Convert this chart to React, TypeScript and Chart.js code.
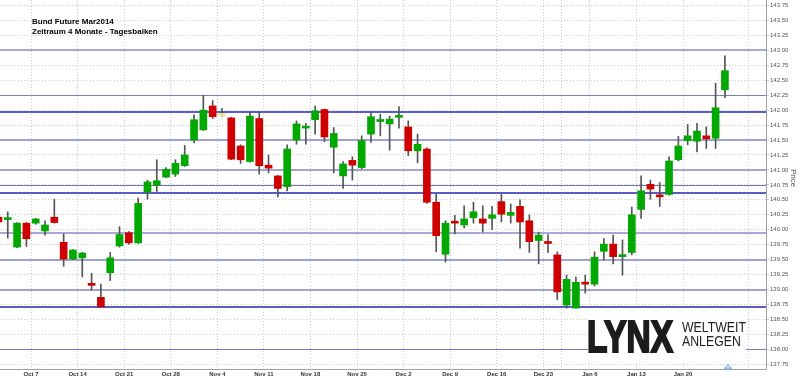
import React, { useEffect, useRef } from 'react';
import { Chart, registerables } from 'chart.js';

Chart.register(...registerables);

// Trading days (category of each candle)
const days = [
  'Oct 1', 'Oct 2', 'Oct 3', 'Oct 4',
  'Oct 7', 'Oct 8', 'Oct 9', 'Oct 10', 'Oct 11',
  'Oct 14', 'Oct 15', 'Oct 16', 'Oct 17', 'Oct 18',
  'Oct 21', 'Oct 22', 'Oct 23', 'Oct 24', 'Oct 25',
  'Oct 28', 'Oct 29', 'Oct 30', 'Oct 31', 'Nov 1',
  'Nov 4', 'Nov 5', 'Nov 6', 'Nov 7', 'Nov 8',
  'Nov 11', 'Nov 12', 'Nov 13', 'Nov 14', 'Nov 15',
  'Nov 18', 'Nov 19', 'Nov 20', 'Nov 21', 'Nov 22',
  'Nov 25', 'Nov 26', 'Nov 27', 'Nov 28', 'Nov 29',
  'Dec 2', 'Dec 3', 'Dec 4', 'Dec 5', 'Dec 6',
  'Dec 9', 'Dec 10', 'Dec 11', 'Dec 12', 'Dec 13',
  'Dec 16', 'Dec 17', 'Dec 18', 'Dec 19', 'Dec 20',
  'Dec 23', 'Dec 27',
  'Dec 30', 'Jan 2', 'Jan 3',
  'Jan 6', 'Jan 7', 'Jan 8', 'Jan 9', 'Jan 10',
  'Jan 13', 'Jan 14', 'Jan 15', 'Jan 16', 'Jan 17',
  'Jan 20', 'Jan 21', 'Jan 22', 'Jan 23', 'Jan 24',
];

const openP = [
  140.21, 140.17, 139.71, 140.11,
  140.11, 139.98, 140.21, 139.79, 139.51,
  139.53, 139.08, 138.87, 139.28, 139.73,
  139.95, 139.78, 140.63, 140.74, 140.88,
  140.93, 141.07, 141.50, 141.67, 142.07,
  141.91, 141.87, 141.40, 141.14, 141.86,
  141.08, 140.90, 140.72, 141.50, 141.70,
  141.84, 142.01, 141.38, 140.90, 141.16,
  141.04, 141.60, 141.81, 141.77, 141.88,
  141.72, 141.32, 141.35, 140.46, 139.59,
  140.12, 140.08, 140.20, 140.18, 140.19,
  140.47, 140.24, 140.39, 140.15, 139.82,
  139.78, 139.58,
  138.74, 138.69, 139.10,
  139.09, 139.64, 139.76, 139.55, 139.62,
  140.34, 140.76, 140.56, 140.59, 141.17,
  141.49, 141.48, 141.57, 141.53, 142.34,
];

const closeP = [
  140.13, 140.18, 140.11, 139.85,
  140.18, 140.08, 140.12, 139.51, 139.66,
  139.61, 139.07, 138.71, 139.53, 139.92,
  139.78, 140.44, 140.80, 140.82, 141.01,
  141.11, 141.25, 141.84, 142.00, 141.89,
  141.91, 141.18, 141.17, 141.90, 141.07,
  141.03, 140.69, 141.35, 141.77, 141.71,
  141.99, 141.55, 141.61, 141.10, 141.08,
  141.49, 141.89, 141.82, 141.85, 141.89,
  141.32, 141.43, 140.46, 139.90, 140.11,
  140.11, 140.18, 140.30, 140.11, 140.25,
  140.26, 140.29, 140.13, 139.80, 139.91,
  139.77, 138.96,
  139.17, 139.12, 139.09,
  139.54, 139.76, 139.55, 139.56, 140.25,
  140.65, 140.68, 140.55, 141.15, 141.40,
  141.57, 141.65, 141.52, 142.04, 142.66,
];

const highP = [
  140.25, 140.30, 140.12, 140.12,
  140.19, 140.15, 140.51, 139.93, 139.67,
  139.62, 139.27, 139.09, 139.62, 140.05,
  139.97, 140.53, 140.83, 141.17, 141.04,
  141.17, 141.41, 141.92, 142.25, 142.16,
  142.03, 141.88, 141.42, 141.96, 141.97,
  141.25, 140.91, 141.42, 141.82, 141.78,
  142.07, 142.02, 141.71, 141.14, 141.22,
  141.57, 141.96, 141.93, 141.90, 142.06,
  141.82, 141.60, 141.37, 140.60, 140.15,
  140.24, 140.40, 140.46, 140.40, 140.39,
  140.59, 140.43, 140.50, 140.25, 139.96,
  139.92, 139.63,
  139.24, 139.21, 139.24,
  139.63, 139.85, 139.91, 139.83, 140.38,
  140.90, 140.83, 140.79, 141.22, 141.56,
  141.76, 141.78, 141.72, 142.45, 142.91,
];

const lowP = [
  140.10, 139.86, 139.70, 139.72,
  140.09, 139.91, 140.11, 139.39, 139.50,
  139.21, 138.99, 138.70, 139.15, 139.71,
  139.76, 139.77, 140.51, 140.64, 140.87,
  140.89, 141.06, 141.45, 141.66, 141.86,
  141.90, 141.17, 141.11, 141.13, 140.93,
  140.95, 140.55, 140.65, 141.43, 141.43,
  141.60, 141.47, 140.95, 140.69, 140.83,
  141.02, 141.46, 141.57, 141.33, 141.70,
  141.24, 141.12, 140.44, 139.63, 139.46,
  139.93, 140.03, 140.11, 139.96, 140.00,
  140.13, 140.11, 139.69, 139.62, 139.43,
  139.62, 138.83,
  138.69, 138.69, 138.94,
  139.06, 139.49, 139.43, 139.24, 139.58,
  140.19, 140.51, 140.39, 140.58, 141.15,
  141.42, 141.30, 141.36, 141.36, 142.21,
];

// Week starts for vertical grid lines and their labels
const weekStarts = [
  'Oct 7', 'Oct 14', 'Oct 21', 'Oct 28', 'Nov 4', 'Nov 11', 'Nov 18', 'Nov 25',
  'Dec 2', 'Dec 9', 'Dec 16', 'Dec 23', 'Dec 30', 'Jan 6', 'Jan 13', 'Jan 20', 'Jan 27',
];
const weekLabels = [
  'Oct 7', 'Oct 14', 'Oct 21', 'Oct 28', 'Nov 4', 'Nov 11', 'Nov 18', 'Nov 25',
  'Dec 2', 'Dec 9', 'Dec 16', 'Dec 23', '', 'Jan 6', 'Jan 13', 'Jan 20', '',
];
// calendar days after the last trading day for weeks beyond the data
const futureWeekOffsets: Record<string, number> = { 'Jan 27': 3 };

const priceTicks = [
  137.75, 138.0, 138.25, 138.5, 138.75, 139.0, 139.25, 139.5, 139.75, 140.0,
  140.25, 140.5, 140.75, 141.0, 141.25, 141.5, 141.75, 142.0, 142.25, 142.5,
  142.75, 143.0, 143.25, 143.5, 143.75,
];

// Horizontal support / resistance lines
const levels = [143.0, 142.25, 141.97, 141.5, 141.0, 140.75, 140.61, 139.95, 139.5, 139.0, 138.71, 138.0];
const levelWidths = [2, 1, 2, 1.5, 2, 1, 2, 2, 1.5, 1.5, 2, 1];
const levelColors = [
  '#a8a8d6', '#7c7cbc', '#5c5cd0', '#8484c6', '#a4a4d4', '#7474b8',
  '#5c5cc8', '#a8a8d6', '#8484c6', '#8484c6', '#5c5cc8', '#7c7cbc',
];

const titleLines = ['Bund Future Mar2014', 'Zeitraum 4 Monate - Tagesbalken'];
const axisTitle = 'Price';
const logoMain = 'LYNX';
const logoSub = ['WELTWEIT', 'ANLEGEN'];

const UP = '#00a800';
const DOWN = '#d00000';
const FLAT = '#eee890';
const FONT = '"Liberation Sans", Arial, sans-serif';

function weekPositions(): number[] {
  const last = days.length - 1;
  return weekStarts.map((w) => {
    const idx = days.indexOf(w);
    if (idx >= 0) return idx - 0.5;
    return last + (futureWeekOffsets[w] || 0) - 0.5;
  });
}

const overlayPlugin = {
  id: 'overlay',
  beforeDatasetsDraw(chart: any) {
    const { ctx, chartArea, scales } = chart;
    const y = scales.y;
    ctx.save();
    levels.forEach((lv, k) => {
      const w = levelWidths[k];
      let py = y.getPixelForValue(lv);
      py = Math.round(py) + (w % 2 === 1 ? 0.5 : 0);
      ctx.strokeStyle = levelColors[k];
      ctx.lineWidth = w;
      ctx.beginPath();
      ctx.moveTo(chartArea.left, py);
      ctx.lineTo(chartArea.right, py);
      ctx.stroke();
    });
    ctx.restore();
  },
  afterDraw(chart: any) {
    const { ctx, chartArea } = chart;
    ctx.save();
    // axis lines
    ctx.strokeStyle = '#a0a0a0';
    ctx.lineWidth = 1;
    ctx.beginPath();
    const rx = Math.round(chartArea.right) + 0.5;
    const by = Math.round(chartArea.bottom) + 0.5;
    ctx.moveTo(rx, 0);
    ctx.lineTo(rx, by);
    ctx.moveTo(0, by);
    ctx.lineTo(rx, by);
    ctx.stroke();

    // title
    ctx.fillStyle = '#000';
    ctx.font = `bold 8px ${FONT}`;
    ctx.textBaseline = 'middle';
    ctx.textAlign = 'left';
    ctx.fillText(titleLines[0], 32, 21.7);
    ctx.fillText(titleLines[1], 32, 31.7);

    // axis title
    ctx.save();
    ctx.translate(793, 178);
    ctx.rotate(Math.PI / 2);
    ctx.font = `8px ${FONT}`;
    ctx.fillStyle = '#555';
    ctx.textAlign = 'center';
    ctx.textBaseline = 'middle';
    ctx.fillText(axisTitle, 0, 0);
    ctx.restore();

    // logo box
    ctx.fillStyle = '#ffffff';
    ctx.fillRect(588, 309, 158, 52);
    ctx.textAlign = 'left';
    ctx.textBaseline = 'alphabetic';
    ctx.fillStyle = '#1c1c1c';
    ctx.strokeStyle = '#1c1c1c';
    ctx.font = `bold 45px ${FONT}`;
    const wMain = ctx.measureText(logoMain).width;
    ctx.save();
    ctx.translate(587, 351.5);
    ctx.scale(86 / wMain, 1);
    ctx.lineWidth = 2.2;
    ctx.lineJoin = 'miter';
    ctx.fillText(logoMain, 0, 0);
    ctx.strokeText(logoMain, 0, 0);
    ctx.restore();

    ctx.font = `15.5px ${FONT}`;
    ctx.fillStyle = '#222';
    const wSub = ctx.measureText(logoSub[0]).width;
    const sx = 64 / wSub;
    ctx.save();
    ctx.translate(682, 331.8);
    ctx.scale(sx, 1);
    ctx.fillText(logoSub[0], 0, 0);
    ctx.restore();
    ctx.save();
    ctx.translate(682, 346.3);
    ctx.scale(sx, 1);
    ctx.fillText(logoSub[1], 0, 0);
    ctx.restore();

    // small icon
    ctx.beginPath();
    ctx.moveTo(724, 369);
    ctx.lineTo(728, 364.5);
    ctx.lineTo(732, 369);
    ctx.closePath();
    ctx.fillStyle = '#c4dcf4';
    ctx.fill();
    ctx.strokeStyle = '#7fa8d8';
    ctx.lineWidth = 1;
    ctx.stroke();
    ctx.restore();
  },
};

export default function App() {
  const canvasRef = useRef<HTMLCanvasElement | null>(null);

  useEffect(() => {
    const canvas = canvasRef.current;
    if (!canvas) return;
    const colorOf = (i: number) =>
      closeP[i] > openP[i] ? UP : closeP[i] < openP[i] ? DOWN : FLAT;
    const bodyColors = days.map((_, i) => colorOf(i));
    const weekPos = weekPositions();

    const chart = new Chart(canvas, {
      type: 'bar',
      data: {
        datasets: [
          {
            label: 'body',
            order: 0,
            data: days.map((_, i) => ({ x: i, y: [openP[i], closeP[i]] })) as any,
            backgroundColor: bodyColors,
            borderWidth: 0,
            barThickness: 7,
            minBarLength: 2,
          },
          {
            label: 'wick',
            order: 1,
            data: days.map((_, i) => ({ x: i, y: [lowP[i], highP[i]] })) as any,
            backgroundColor: '#555555',
            borderWidth: 0,
            barThickness: 1,
          },
        ],
      },
      options: {
        animation: false,
        responsive: false,
        events: [],
        layout: { padding: 0 },
        datasets: { bar: { grouped: false } } as any,
        plugins: {
          legend: { display: false },
          tooltip: { enabled: false },
          title: { display: false },
        },
        scales: {
          x: {
            type: 'linear',
            position: 'bottom',
            min: 0.167,
            max: 82.41,
            offset: false,
            afterBuildTicks: (s: any) => {
              s.ticks = weekPos.map((v) => ({ value: v }));
            },
            afterFit: (s: any) => {
              s.height = 9;
              s.paddingLeft = 0;
              s.paddingRight = 0;
            },
            ticks: {
              autoSkip: false,
              maxRotation: 0,
              minRotation: 0,
              padding: 2,
              color: '#333',
              font: { size: 6, weight: 'bold', family: FONT },
              callback: (_v: any, i: number) => weekLabels[i],
            },
            grid: { color: '#cccccc', lineWidth: 1, drawTicks: false, offset: false },
            border: { display: false, dash: [1, 2] },
          } as any,
          y: {
            type: 'linear',
            position: 'right',
            min: 137.671,
            max: 143.842,
            beginAtZero: false,
            afterBuildTicks: (s: any) => {
              s.ticks = priceTicks.map((v) => ({ value: v }));
            },
            afterFit: (s: any) => {
              s.width = 34;
              s.paddingTop = 0;
              s.paddingBottom = 0;
            },
            ticks: {
              padding: 1,
              color: '#555',
              font: { size: 6, family: FONT },
              callback: (v: any) => Number(v).toFixed(2),
            },
            grid: { color: '#cccccc', lineWidth: 1, tickLength: 3 },
            border: { display: false, dash: [1, 2] },
          } as any,
        },
      },
      plugins: [overlayPlugin],
    });

    return () => {
      chart.destroy();
    };
  }, []);

  return (
    <div style={{ position: 'absolute', left: 0, top: 0, width: 800, height: 378, background: '#fff' }}>
      <canvas ref={canvasRef} width={800} height={378} style={{ display: 'block' }} />
    </div>
  );
}
